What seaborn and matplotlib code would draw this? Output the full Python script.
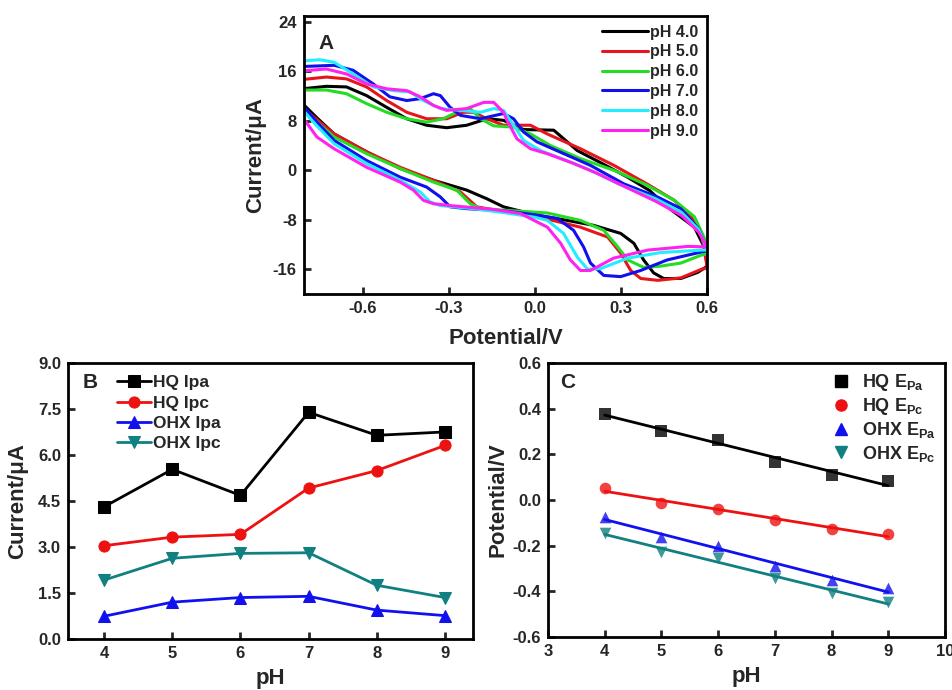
import numpy as np
import pandas as pd
import matplotlib.pyplot as plt
import seaborn as sns
from matplotlib.lines import Line2D
from matplotlib.ticker import FormatStrFormatter

# ---- panel A: cyclic voltammograms (upper branch left->right, lower branch right->left)
ph40_up_e = [-0.81, -0.727, -0.657, -0.587, -0.517, -0.447, -0.378, -0.308, -0.238, -0.168, -0.11, -0.04, 0.065, 0.147, 0.23, 0.322, 0.40, 0.46, 0.555, 0.59, 0.6]
ph40_up_i = [13.2, 13.6, 13.5, 12.1, 10.2, 8.35, 7.3, 6.9, 7.3, 8.35, 8.1, 6.6, 6.5, 3.2, 1.2, -1.1, -3.3, -5.9, -9.2, -12.5, -15.5]
ph40_dn_e = [0.6, 0.567, 0.508, 0.448, 0.413, 0.378, 0.344, 0.298, 0.204, 0.10, 0.0, -0.11, -0.168, -0.238, -0.354, -0.47, -0.587, -0.70, -0.76, -0.81]
ph40_dn_i = [-15.5, -16.5, -17.5, -17.5, -16.6, -14.5, -11.8, -10.2, -8.9, -8.0, -7.2, -5.9, -4.6, -3.2, -1.6, 0.3, 3.0, 5.9, 8.5, 10.8]

ph50_up_e = [-0.81, -0.727, -0.657, -0.587, -0.517, -0.447, -0.378, -0.308, -0.25, -0.214, -0.168, -0.11, -0.016, 0.042, 0.158, 0.275, 0.39, 0.485, 0.543, 0.58, 0.6]
ph50_up_i = [14.7, 15.1, 14.8, 13.5, 11.3, 9.4, 8.35, 8.35, 9.4, 9.4, 8.35, 7.3, 7.3, 5.9, 3.5, 0.8, -2.2, -4.85, -7.5, -10.5, -15.8]
ph50_dn_e = [0.6, 0.58, 0.508, 0.428, 0.368, 0.333, 0.298, 0.253, 0.158, 0.0, -0.168, -0.203, -0.26, -0.354, -0.47, -0.587, -0.70, -0.76, -0.81]
ph50_dn_i = [-15.8, -16.0, -17.4, -17.8, -17.5, -16.2, -13.4, -10.8, -9.2, -7.4, -6.2, -5.9, -3.5, -1.6, 0.5, 3.0, 5.9, 8.2, 10.2]

ph60_up_e = [-0.81, -0.727, -0.657, -0.587, -0.517, -0.447, -0.378, -0.32, -0.26, -0.226, -0.19, -0.144, -0.075, -0.016, 0.054, 0.158, 0.275, 0.39, 0.485, 0.555, 0.59, 0.6]
ph60_up_i = [13.0, 13.0, 12.4, 10.8, 9.4, 8.35, 7.8, 8.35, 9.7, 10.0, 8.35, 7.2, 7.0, 5.9, 4.0, 1.9, 0.0, -2.4, -4.85, -7.5, -11.0, -13.5]
ph60_dn_e = [0.6, 0.58, 0.508, 0.438, 0.378, 0.323, 0.288, 0.239, 0.158, 0.043, -0.19, -0.226, -0.273, -0.354, -0.47, -0.587, -0.70, -0.76, -0.81]
ph60_dn_i = [-13.5, -13.7, -15.0, -15.5, -15.7, -14.5, -12.4, -9.7, -8.1, -6.9, -6.2, -5.4, -3.2, -1.9, 0.3, 2.7, 5.4, 7.8, 10.0]

ph70_up_e = [-0.81, -0.70, -0.634, -0.564, -0.506, -0.447, -0.40, -0.354, -0.33, -0.296, -0.26, -0.19, -0.11, -0.075, -0.04, 0.007, 0.10, 0.193, 0.31, 0.426, 0.508, 0.57, 0.6]
ph70_up_i = [16.8, 17.0, 16.2, 14.0, 11.9, 11.3, 11.6, 12.4, 12.1, 10.2, 8.9, 8.35, 9.2, 8.35, 6.2, 4.6, 2.7, 0.8, -2.2, -4.3, -6.2, -9.5, -13.0]
ph70_dn_e = [0.6, 0.58, 0.46, 0.368, 0.298, 0.239, 0.193, 0.169, 0.134, 0.078, 0.0, -0.1, -0.238, -0.296, -0.33, -0.378, -0.47, -0.587, -0.70, -0.76, -0.81]
ph70_dn_i = [-13.0, -13.2, -14.5, -16.2, -17.2, -17.0, -15.0, -12.4, -9.7, -7.8, -7.2, -6.6, -6.2, -5.9, -4.3, -2.7, -1.1, 1.6, 4.85, 7.8, 10.5]

ph80_up_e = [-0.81, -0.75, -0.70, -0.634, -0.564, -0.494, -0.436, -0.389, -0.33, -0.26, -0.19, -0.144, -0.11, -0.075, -0.04, 0.019, 0.11, 0.193, 0.30, 0.42, 0.51, 0.57, 0.6]
ph80_up_i = [17.7, 17.9, 17.5, 15.6, 13.5, 12.9, 12.7, 11.3, 10.0, 9.7, 9.4, 10.0, 9.7, 7.3, 4.85, 3.2, 1.6, 0.0, -2.4, -4.6, -6.8, -9.6, -12.9]
ph80_dn_e = [0.6, 0.58, 0.438, 0.323, 0.228, 0.183, 0.148, 0.099, 0.043, 0.0, -0.1, -0.214, -0.33, -0.366, -0.40, -0.47, -0.587, -0.70, -0.76, -0.81]
ph80_dn_i = [-12.9, -12.9, -13.3, -14.2, -15.9, -16.0, -14.1, -10.2, -8.1, -7.6, -6.9, -6.2, -5.7, -5.1, -3.5, -1.6, 1.1, 4.3, 7.2, 9.8]

ph90_up_e = [-0.81, -0.727, -0.657, -0.587, -0.517, -0.447, -0.40, -0.354, -0.308, -0.238, -0.179, -0.144, -0.11, -0.098, -0.063, -0.016, 0.042, 0.135, 0.217, 0.32, 0.42, 0.51, 0.57, 0.6]
ph90_up_i = [16.1, 16.4, 15.6, 14.0, 13.2, 12.9, 11.9, 10.5, 9.7, 10.0, 11.0, 11.0, 9.4, 8.1, 5.1, 3.5, 2.7, 1.1, -0.5, -2.8, -5.0, -7.3, -10.0, -12.4]
ph90_dn_e = [0.6, 0.533, 0.393, 0.274, 0.193, 0.158, 0.123, 0.089, 0.043, -0.05, -0.15, -0.296, -0.354, -0.389, -0.424, -0.47, -0.587, -0.70, -0.76, -0.81]
ph90_dn_i = [-12.4, -12.3, -12.9, -14.2, -16.2, -16.2, -14.5, -11.8, -9.2, -7.0, -6.3, -5.7, -5.4, -4.85, -3.2, -1.9, 0.5, 3.5, 5.4, 8.6]

cv_labels = ['pH 4.0', 'pH 5.0', 'pH 6.0', 'pH 7.0', 'pH 8.0', 'pH 9.0']
cv_colors = ['#000000', '#e8141b', '#22dd22', '#1010ee', '#22eeff', '#ff22ee']

# ---- panel B: peak currents vs pH
ph_values = [4, 5, 6, 7, 8, 9]
hq_ipa = [4.31, 5.53, 4.68, 7.39, 6.64, 6.75]
hq_ipc = [3.04, 3.32, 3.41, 4.92, 5.49, 6.31]
ohx_ipa = [0.74, 1.20, 1.35, 1.39, 0.94, 0.76]
ohx_ipc = [1.92, 2.63, 2.79, 2.81, 1.75, 1.35]

# ---- panel C: peak potentials vs pH
hq_epa = [0.378, 0.304, 0.264, 0.165, 0.109, 0.082]
hq_epc = [0.051, -0.013, -0.042, -0.089, -0.127, -0.150]
ohx_epa = [-0.074, -0.162, -0.203, -0.290, -0.352, -0.388]
ohx_epc = [-0.145, -0.228, -0.253, -0.342, -0.406, -0.447]

sns.set_style('ticks')
plt.rcParams['font.family'] = ['Liberation Sans', 'DejaVu Sans']
plt.rcParams['font.weight'] = 'bold'
plt.rcParams['axes.labelweight'] = 'bold'
plt.rcParams['axes.unicode_minus'] = False
plt.rcParams['mathtext.fontset'] = 'custom'
plt.rcParams['mathtext.rm'] = 'Liberation Sans:bold'
plt.rcParams['mathtext.it'] = 'Liberation Sans:bold'
plt.rcParams['mathtext.bf'] = 'Liberation Sans:bold'


def style_axes(ax):
    for s in ax.spines.values():
        s.set_linewidth(2)
        s.set_color('black')
    ax.tick_params(direction='in', width=2, length=5, labelsize=12, pad=5)
    for lab in ax.get_xticklabels() + ax.get_yticklabels():
        lab.set_fontweight('bold')


fig = plt.figure(figsize=(9.52, 6.9), dpi=100)
axA = fig.add_axes([0.319, 0.574, 0.424, 0.403])
axB = fig.add_axes([0.0714, 0.074, 0.4254, 0.40])
axC = fig.add_axes([0.5756, 0.077, 0.417, 0.397])

# panel A
frames = []
branches = [
    (ph40_up_e + ph40_dn_e, ph40_up_i + ph40_dn_i),
    (ph50_up_e + ph50_dn_e, ph50_up_i + ph50_dn_i),
    (ph60_up_e + ph60_dn_e, ph60_up_i + ph60_dn_i),
    (ph70_up_e + ph70_dn_e, ph70_up_i + ph70_dn_i),
    (ph80_up_e + ph80_dn_e, ph80_up_i + ph80_dn_i),
    (ph90_up_e + ph90_dn_e, ph90_up_i + ph90_dn_i),
]
for lab, (e, i) in zip(cv_labels, branches):
    frames.append(pd.DataFrame({'E': e, 'I': i, 'pH': lab}))
cv = pd.concat(frames, ignore_index=True)
sns.lineplot(data=cv, x='E', y='I', hue='pH', palette=cv_colors, sort=False,
             estimator=None, lw=2.2, ax=axA)
axA.set_xlim(-0.806, 0.6)
axA.set_ylim(-20, 25)
axA.set_xticks([-0.6, -0.3, 0.0, 0.3, 0.6])
axA.set_yticks([-16, -8, 0, 8, 16, 24])
axA.xaxis.set_major_formatter(FormatStrFormatter('%.1f'))
axA.set_xlabel('Potential/V', fontsize=16, labelpad=9)
axA.set_ylabel('Current/μA', fontsize=16, labelpad=5)
axA.legend(loc='upper right', frameon=False, handlelength=2.9,
           handletextpad=0.15, labelspacing=0.3, borderaxespad=0.15,
           prop={'weight': 'bold', 'size': 11.5})
axA.text(0.037, 0.90, 'A', transform=axA.transAxes, fontsize=15,
         fontweight='bold', va='center')
style_axes(axA)

# panel B
b_series = [(hq_ipa, 'HQ Ipa', 'black', 's'),
            (hq_ipc, 'HQ Ipc', '#ee1111', 'o'),
            (ohx_ipa, 'OHX Ipa', '#1111ee', '^'),
            (ohx_ipc, 'OHX Ipc', '#108080', 'v')]
for vals, lab, col, mk in b_series:
    sns.lineplot(x=ph_values, y=vals, color=col, marker=mk, markersize=8,
                 markeredgecolor=col, lw=2, label=lab, ax=axB)
axB.set_xlim(3.47, 9.41)
axB.set_ylim(0, 9)
axB.set_xticks(ph_values)
axB.set_yticks([0, 1.5, 3.0, 4.5, 6.0, 7.5, 9.0])
axB.yaxis.set_major_formatter(FormatStrFormatter('%.1f'))
axB.set_xlabel('pH', fontsize=16, labelpad=5)
axB.set_ylabel('Current/μA', fontsize=16, labelpad=7)
axB.legend(loc='upper left', bbox_to_anchor=(0.09, 1.0), frameon=False,
           handlelength=2.0, handletextpad=0.1, labelspacing=0.3,
           borderaxespad=0.3, prop={'weight': 'bold', 'size': 12.5})
axB.text(0.035, 0.928, 'B', transform=axB.transAxes, fontsize=15,
         fontweight='bold', va='center')
style_axes(axB)

# panel C
c_series = [(hq_epa, r'HQ E$_{\mathregular{Pa}}$', 'black', 's'),
            (hq_epc, r'HQ E$_{\mathregular{Pc}}$', '#ee1111', 'o'),
            (ohx_epa, r'OHX E$_{\mathregular{Pa}}$', '#1111ee', '^'),
            (ohx_epc, r'OHX E$_{\mathregular{Pc}}$', '#108080', 'v')]
handles = []
for vals, lab, col, mk in c_series:
    sns.regplot(x=ph_values, y=vals, ci=None, color=col, marker=mk,
                scatter_kws={'s': 70, 'edgecolor': col, 'linewidths': 0},
                line_kws={'lw': 2}, ax=axC)
    handles.append(Line2D([], [], ls='none', marker=mk, color=col,
                          markersize=8, label=lab))
axC.set_xlim(3, 10)
axC.set_ylim(-0.6, 0.6)
axC.set_xticks([3, 4, 5, 6, 7, 8, 9, 10])
axC.set_yticks([-0.6, -0.4, -0.2, 0.0, 0.2, 0.4, 0.6])
axC.yaxis.set_major_formatter(FormatStrFormatter('%.1f'))
axC.set_xlabel('pH', fontsize=16, labelpad=5)
axC.set_ylabel('Potential/V', fontsize=16, labelpad=3)
axC.legend(handles=handles, loc='upper right', frameon=False,
           handlelength=1.2, handletextpad=0.6, labelspacing=0.18,
           borderaxespad=0.1, prop={'weight': 'bold', 'size': 13})
axC.text(0.03, 0.93, 'C', transform=axC.transAxes, fontsize=15,
         fontweight='bold', va='center')
style_axes(axC)

fig.savefig('out.png', dpi=100)
